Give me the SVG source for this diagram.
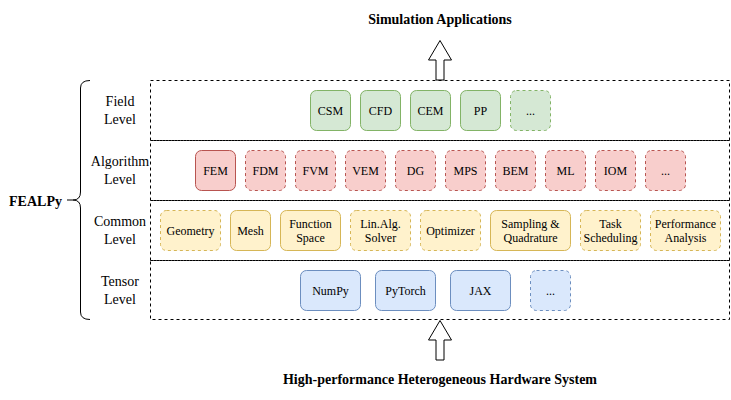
<svg xmlns="http://www.w3.org/2000/svg" width="731" height="400" viewBox="0 0 731 400">
<style>
text{font-family:'Liberation Serif','Times New Roman',Times,serif;fill:#000;text-anchor:middle}
.t{font-size:12px}
.lv{font-size:14px}
.b{font-size:14px;font-weight:bold}
.row{fill:none;stroke:#000;stroke-width:1;stroke-dasharray:3 3}
.n{stroke-width:1}
.d{stroke-dasharray:3 3}
.g{fill:#d5e8d4;stroke:#82b366}
.r{fill:#f8cecc;stroke:#b85450}
.y{fill:#fff2cc;stroke:#d6b656}
.bl{fill:#dae8fc;stroke:#6c8ebf}
.arrow{fill:#fff;stroke:#000;stroke-width:1}
.brace{fill:none;stroke:#000;stroke-width:1}
</style>
<rect width="731" height="400" fill="#fff"/>
<g font-family="Liberation Serif, Times New Roman, serif">
<text class="b" x="440" y="24">Simulation Applications</text>
<text class="b" x="440" y="384">High-performance Heterogeneous Hardware System</text>
<g id="fealpy">
<text class="b" x="35.5" y="206">FEALPy</text>
<path class="brace" d="M90,80.5 Q80.5,80.5 80.5,88 V192 Q80.5,200 73,200 H67 M73,200 Q80.5,200 80.5,208 V312 Q80.5,319.5 90,319.5"/>
</g>
<g id="rows">
<rect class="row" x="150.5" y="80.5" width="579" height="60"/>
<rect class="row" x="150.5" y="140.5" width="579" height="60"/>
<rect class="row" x="150.5" y="200.5" width="579" height="60"/>
<rect class="row" x="150.5" y="260.5" width="579" height="59"/>
</g>
<g id="level-labels">
<text class="lv" x="120" y="106">Field</text><text class="lv" x="120" y="124">Level</text>
<text class="lv" x="120" y="166">Algorithm</text><text class="lv" x="120" y="184">Level</text>
<text class="lv" x="120" y="226">Common</text><text class="lv" x="120" y="244">Level</text>
<text class="lv" x="120" y="286">Tensor</text><text class="lv" x="120" y="304">Level</text>
</g>
<g id="field">
<g id="csm"><rect class="n g" x="310.5" y="90.5" width="40" height="40" rx="6"/><text class="t" x="330.5" y="114.5">CSM</text></g>
<g id="cfd"><rect class="n g" x="360.5" y="90.5" width="40" height="40" rx="6"/><text class="t" x="380.5" y="114.5">CFD</text></g>
<g id="cem"><rect class="n g" x="410.5" y="90.5" width="40" height="40" rx="6"/><text class="t" x="430.5" y="114.5">CEM</text></g>
<g id="pp"><rect class="n g" x="460.5" y="90.5" width="40" height="40" rx="6"/><text class="t" x="480.5" y="114.5">PP</text></g>
<g id="field-more"><rect class="n g d" x="510.5" y="90.5" width="40" height="40" rx="6"/><text class="t" x="530.5" y="114.5">...</text></g>
</g>
<g id="algorithm">
<g id="fem"><rect class="n r" x="195.5" y="150.5" width="40" height="40" rx="6"/><text class="t" x="215.5" y="174.5">FEM</text></g>
<g id="fdm"><rect class="n r d" x="245.5" y="150.5" width="40" height="40" rx="6"/><text class="t" x="265.5" y="174.5">FDM</text></g>
<g id="fvm"><rect class="n r d" x="295.5" y="150.5" width="40" height="40" rx="6"/><text class="t" x="315.5" y="174.5">FVM</text></g>
<g id="vem"><rect class="n r d" x="345.5" y="150.5" width="40" height="40" rx="6"/><text class="t" x="365.5" y="174.5">VEM</text></g>
<g id="dg"><rect class="n r d" x="395.5" y="150.5" width="40" height="40" rx="6"/><text class="t" x="415.5" y="174.5">DG</text></g>
<g id="mps"><rect class="n r d" x="445.5" y="150.5" width="40" height="40" rx="6"/><text class="t" x="465.5" y="174.5">MPS</text></g>
<g id="bem"><rect class="n r d" x="495.5" y="150.5" width="40" height="40" rx="6"/><text class="t" x="515.5" y="174.5">BEM</text></g>
<g id="ml"><rect class="n r d" x="545.5" y="150.5" width="40" height="40" rx="6"/><text class="t" x="565.5" y="174.5">ML</text></g>
<g id="iom"><rect class="n r d" x="595.5" y="150.5" width="40" height="40" rx="6"/><text class="t" x="615.5" y="174.5">IOM</text></g>
<g id="alg-more"><rect class="n r d" x="645.5" y="150.5" width="40" height="40" rx="6"/><text class="t" x="665.5" y="174.5">...</text></g>
</g>
<g id="common">
<g id="geometry"><rect class="n y d" x="160.5" y="210.5" width="60" height="40" rx="6"/><text class="t" x="190.5" y="234.5">Geometry</text></g>
<g id="mesh"><rect class="n y" x="230.5" y="210.5" width="40" height="40" rx="6"/><text class="t" x="250.5" y="234.5">Mesh</text></g>
<g id="function-space"><rect class="n y" x="280.5" y="210.5" width="60" height="40" rx="6"/><text class="t" x="310.5" y="227.5">Function</text><text class="t" x="310.5" y="242">Space</text></g>
<g id="linalg"><rect class="n y d" x="350.5" y="210.5" width="60" height="40" rx="6"/><text class="t" x="380.5" y="227.5">Lin.Alg.</text><text class="t" x="380.5" y="242">Solver</text></g>
<g id="optimizer"><rect class="n y d" x="420.5" y="210.5" width="60" height="40" rx="6"/><text class="t" x="450.5" y="234.5">Optimizer</text></g>
<g id="sampling"><rect class="n y" x="490.5" y="210.5" width="80" height="40" rx="6"/><text class="t" x="530.5" y="227.5">Sampling &amp;</text><text class="t" x="530.5" y="242">Quadrature</text></g>
<g id="task"><rect class="n y d" x="580.5" y="210.5" width="60" height="40" rx="6"/><text class="t" x="610.5" y="227.5">Task</text><text class="t" x="610.5" y="242">Scheduling</text></g>
<g id="performance"><rect class="n y d" x="650.5" y="210.5" width="70" height="40" rx="6"/><text class="t" x="685.5" y="227.5">Performance</text><text class="t" x="685.5" y="242">Analysis</text></g>
</g>
<g id="tensor">
<g id="numpy"><rect class="n bl" x="300.5" y="270.5" width="60" height="40" rx="6"/><text class="t" x="330.5" y="294.5">NumPy</text></g>
<g id="pytorch"><rect class="n bl" x="375.5" y="270.5" width="60" height="40" rx="6"/><text class="t" x="405.5" y="294.5">PyTorch</text></g>
<g id="jax"><rect class="n bl" x="450.5" y="270.5" width="60" height="40" rx="6"/><text class="t" x="480.5" y="294.5">JAX</text></g>
<g id="tensor-more"><rect class="n bl d" x="530.5" y="270.5" width="40" height="40" rx="6"/><text class="t" x="550.5" y="294.5">...</text></g>
</g>
<g id="connectors">
<polygon class="arrow" points="440,40.5 451.5,60 444,60 444,80 436,80 436,60 428.5,60"/>
<polygon class="arrow" points="440,320.5 451.5,340 444,340 444,360 436,360 436,340 428.5,340"/>
</g>
</g>
</svg>
